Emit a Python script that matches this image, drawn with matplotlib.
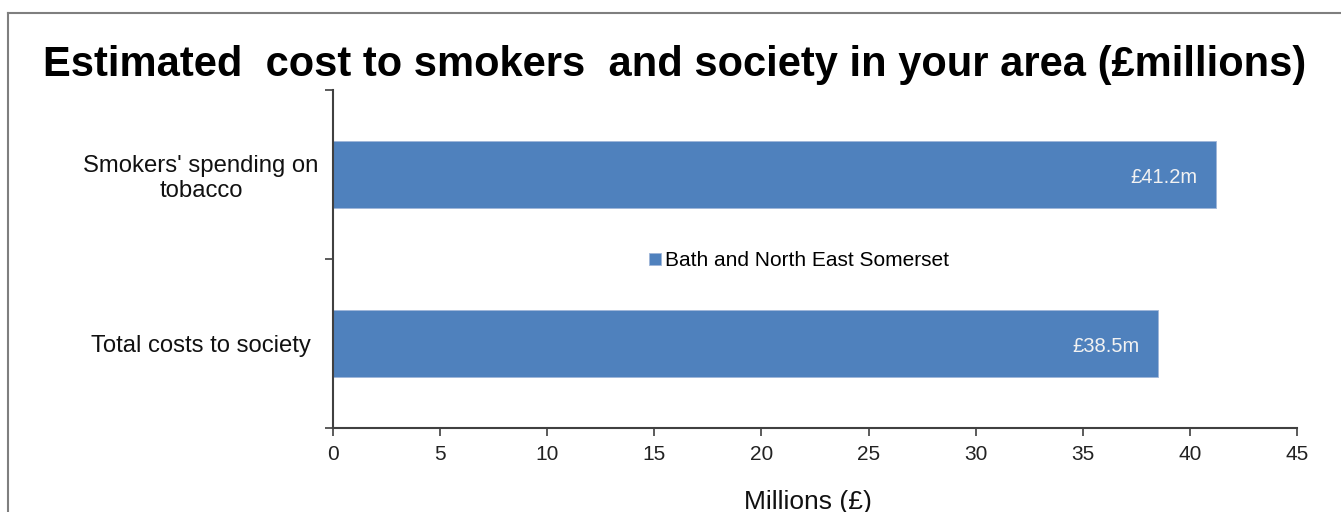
import matplotlib.pyplot as plt
from matplotlib.lines import Line2D

plt.rcParams['font.family'] = ['Liberation Sans', 'DejaVu Sans']

# data
categories = ["Smokers' spending on\ntobacco", "Total costs to society"]
values = [41.2, 38.5]
bar_labels = ["£41.2m", "£38.5m"]
series_name = "Bath and North East Somerset"
xticks = [0, 5, 10, 15, 20, 25, 30, 35, 40, 45]

bar_color = '#4F81BD'
axis_color = '#404040'

fig = plt.figure(figsize=(13.41, 5.12), dpi=100)
ax = fig.add_axes([333 / 1341, 1 - 428 / 512, 964 / 1341, 338 / 512])

# top category first
ypos = [1, 0]
bars = ax.barh(ypos, values, height=0.4, color=bar_color,
               edgecolor='#9fb6d9', linewidth=0.6, label=series_name)

for b, txt in zip(bars, bar_labels):
    ax.text(b.get_width() - 0.85, b.get_y() + b.get_height() / 2 - 0.015, txt,
            ha='right', va='center', color='#f2f2f2', fontsize=14.5)

ax.set_xlim(0, 45)
ax.set_ylim(-0.5, 1.5)
ax.set_xticks(xticks)
ax.set_xticklabels([str(t) for t in xticks], fontsize=15, color='#222222')
ax.set_yticks([-0.5, 0.5, 1.5])
ax.set_yticklabels([])
ax.set_yticks(ypos, minor=True)
ax.set_yticklabels(categories, minor=True, fontsize=17.2, ha='center',
                   multialignment='center', color='#111111')
ax.tick_params(axis='y', which='minor', length=0, pad=95)
ax.tick_params(axis='y', which='major', length=6, width=1.2, color=axis_color)
ax.tick_params(axis='x', length=6, width=1.2, color=axis_color, pad=6)

for side in ['top', 'right']:
    ax.spines[side].set_visible(False)
for side in ['left', 'bottom']:
    ax.spines[side].set_color(axis_color)
    ax.spines[side].set_linewidth(1.5)

ax.set_xlabel('Millions (£)', fontsize=19, labelpad=19, color='#111111')
ax.xaxis.label.set_x((808 - 333) / 964)

leg = ax.legend(loc='center', bbox_to_anchor=((799 - 333) / 964, 0.495),
                frameon=False, fontsize=15, handlelength=0.55, handleheight=0.55,
                handletextpad=0.2)

fig.text(675 / 1341, 1 - 76 / 512,
         'Estimated  cost to smokers  and society in your area (£millions)',
         ha='center', va='baseline', fontsize=30, fontweight='bold')

# outer chart frame (left and top edges visible)
fig.add_artist(Line2D([8 / 1341, 8 / 1341], [0, 1 - 13 / 512],
                      transform=fig.transFigure, color='#7f7f7f', lw=1.5))
fig.add_artist(Line2D([8 / 1341, 1], [1 - 13 / 512, 1 - 13 / 512],
                      transform=fig.transFigure, color='#7f7f7f', lw=1.5))

fig.savefig('out.png', dpi=100)
